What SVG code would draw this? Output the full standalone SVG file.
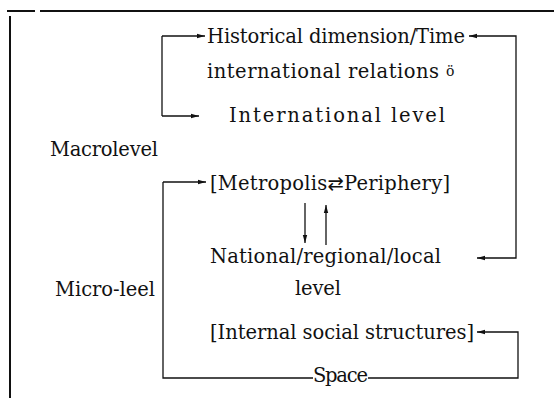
<svg xmlns="http://www.w3.org/2000/svg" width="554" height="398" viewBox="0 0 554 398">
<defs>
<marker id="ah" markerUnits="userSpaceOnUse" markerWidth="9" markerHeight="6" refX="8" refY="3" orient="auto-start-reverse">
<path d="M0,0.8 L8,3 L0,5.2 z" fill="#111"/>
</marker>
<style>
text{font-family:"DejaVu Serif","Liberation Serif",serif;font-size:19.5px;fill:#111}
.c{fill:none;stroke:#111;stroke-width:1.3}
.f{fill:none;stroke:#111;stroke-width:2}
.a{marker-end:url(#ah)}
</style>
</defs>
<rect width="554" height="398" fill="#fff"/>
<g id="frame">
<path class="f" d="M7,11 L35,11 M40,11 L554,11 M10,16 L10,398"/>
</g>
<g id="connectors">
<path class="c" d="M162,36 L162,116"/>
<path class="c a" d="M162,36 L205,36"/>
<path class="c a" d="M162,116 L199,116"/>
<path class="c" style="marker-start:url(#ah);marker-end:url(#ah)" d="M469,36 L516,36 L516,258 L477,258"/>
<path class="c" d="M163,182 L163,378 L313,378"/>
<path class="c a" d="M163,182 L206,182"/>
<path class="c a" d="M368,378 L518,378 L518,332 L477,332"/>
<path class="c a" d="M305,203 L305,243"/>
<path class="c a" d="M326,245 L326,205"/>
</g>
<g id="historical"><text x="207" y="43" textLength="258">Historical dimension/Time</text></g>
<g id="relations"><text x="207" y="78" textLength="232">international relations</text><text x="446" y="76" style="font-size:14px">ö</text></g>
<g id="international"><text x="229" y="122" textLength="216">International level</text></g>
<g id="macrolevel"><text x="50" y="156" textLength="108">Macrolevel</text></g>
<g id="metropolis"><text x="210" y="190" textLength="240">[Metropolis<tspan style="font-family:'DejaVu Sans',sans-serif">⇄</tspan>Periphery]</text></g>
<g id="national"><text x="210" y="263" textLength="231">National/regional/local</text><text x="295" y="295" textLength="46">level</text></g>
<g id="microlevel"><text x="55" y="296" textLength="100">Micro-leel</text></g>
<g id="internal"><text x="210" y="339" textLength="264">[Internal social structures]</text></g>
<g id="space"><text x="313" y="382" textLength="55">Space</text></g>
</svg>
